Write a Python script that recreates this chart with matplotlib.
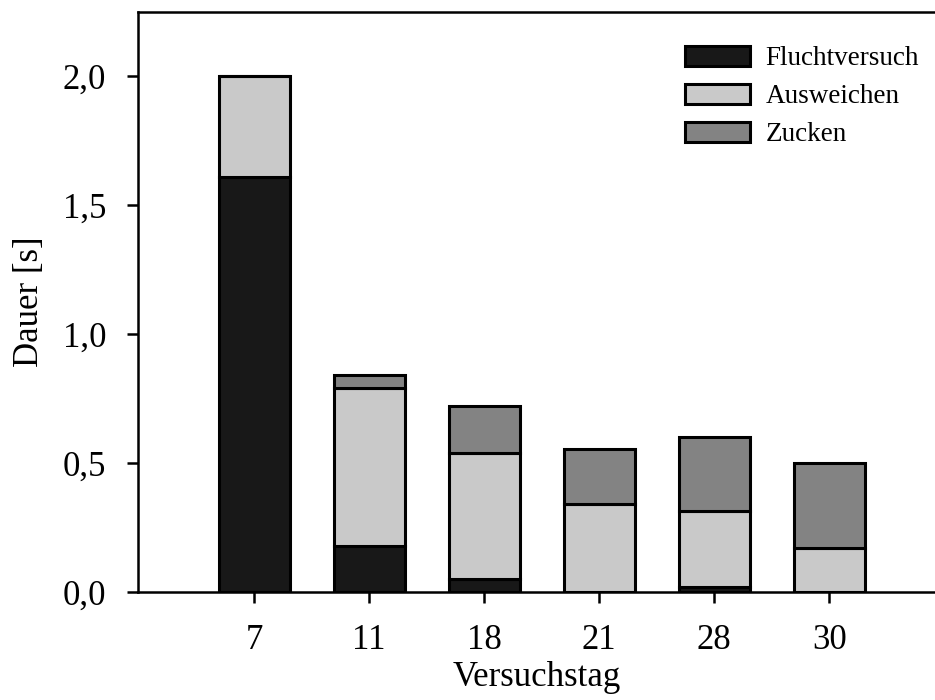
import numpy as np
from matplotlib import pyplot as plt
from matplotlib import rc

rc('font', family='Liberation Serif')
rc('font', size=25)

# data
days = ['7', '11', '18', '21', '28', '30']
flucht = [1.61, 0.18, 0.05, 0.0, 0.02, 0.0]
ausweichen = [0.39, 0.61, 0.49, 0.34, 0.295, 0.17]
zucken = [0.0, 0.05, 0.18, 0.215, 0.285, 0.33]

yticks = [0.0, 0.5, 1.0, 1.5, 2.0]
ytick_labels = ['0,0', '0,5', '1,0', '1,5', '2,0']

c_flucht = '#181818'
c_ausw = '#c9c9c9'
c_zuck = '#838383'

fig = plt.figure(figsize=(9.35, 7.0), dpi=100)
ax = fig.add_axes([138/935., 108/700., 797/935., 580/700.])

x = np.arange(len(days))
w = 0.62
flucht = np.array(flucht)
ausweichen = np.array(ausweichen)
zucken = np.array(zucken)

lw = 2.2
ax.bar(x, flucht, w, color=c_flucht, edgecolor='k', linewidth=lw, label='Fluchtversuch')
ax.bar(x, ausweichen, w, bottom=flucht, color=c_ausw, edgecolor='k', linewidth=lw, label='Ausweichen')
ax.bar(x, zucken, w, bottom=flucht + ausweichen, color=c_zuck, edgecolor='k', linewidth=lw, label='Zucken')

ax.set_xlim(-1.01, 5.92)
ax.set_ylim(0, 2.25)
ax.set_xticks(x)
ax.set_xticklabels(days)
ax.set_yticks(yticks)
ax.set_yticklabels(ytick_labels)

ax.spines['right'].set_visible(False)
for s in ['left', 'top', 'bottom']:
    ax.spines[s].set_linewidth(1.8)
ax.tick_params(direction='out', length=8, width=1.8)
ax.tick_params(axis='x', pad=15)
ax.tick_params(axis='y', pad=15)

ax.set_xlabel('Versuchstag', labelpad=3)
ax.set_ylabel('Dauer [s]', labelpad=12)

ax.legend(loc='upper right', bbox_to_anchor=(1.0, 0.97), frameon=False, fontsize=19.5,
          handlelength=2.4, handleheight=0.8, labelspacing=0.45, handletextpad=0.55,
          borderaxespad=0.2)

plt.savefig('out.png', dpi=100)
